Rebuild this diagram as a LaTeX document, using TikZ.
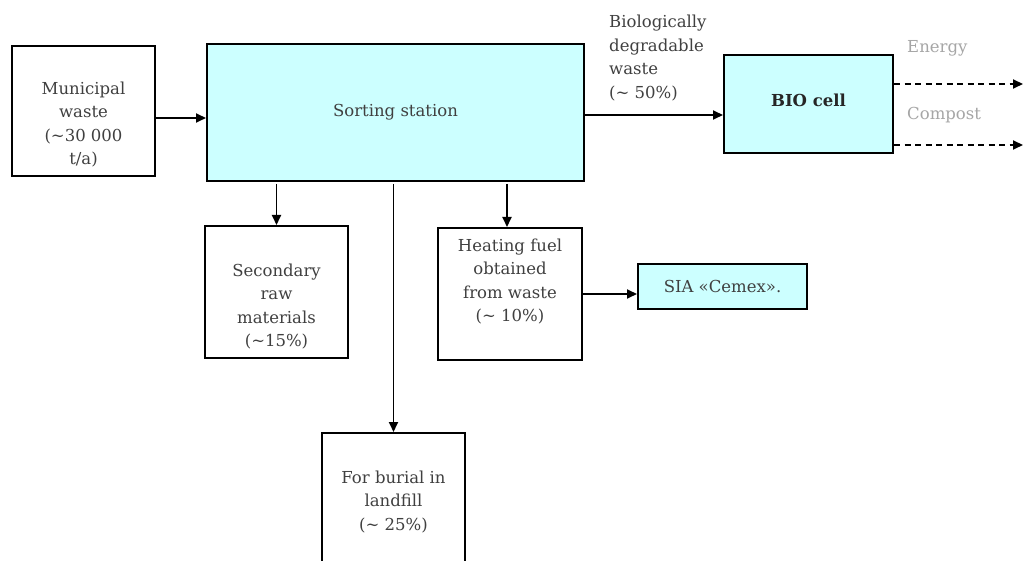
\documentclass[tikz,border=0pt]{standalone}
\usepackage{fontspec}
\setmainfont{DejaVu Serif}
\usetikzlibrary{arrows.meta}
\definecolor{txt}{RGB}{64,64,64}
\definecolor{cyanfill}{RGB}{204,255,255}
\definecolor{lightg}{RGB}{166,166,166}
\begin{document}
\begin{tikzpicture}[x=1pt,y=-1pt,
  box/.style={draw=black,line width=2pt,inner sep=0pt},
  cbox/.style={box,fill=cyanfill},
  lbl/.style={text=txt,font=\fontsize{16.5}{23.5}\selectfont,align=center,inner sep=0pt},
  arr/.style={line width=1.8pt,-{Triangle[length=10pt,width=9pt]}},
  darr/.style={arr,dash pattern=on 6pt off 4.5pt}]
\clip (0,0) rectangle (1024,561);
\fill[white] (0,0) rectangle (1024,561);
% boxes
\node[box,minimum width=143pt,minimum height=130pt] (muni) at (83.5,111) {};
\node[cbox,minimum width=377pt,minimum height=137pt] (sort) at (395.5,112.5) {};
\node[cbox,minimum width=169pt,minimum height=98pt] (bio) at (808.5,104) {};
\node[box,minimum width=143pt,minimum height=132pt] (sec) at (276.5,292) {};
\node[box,minimum width=144pt,minimum height=132pt] (heat) at (510,294) {};
\node[cbox,minimum width=169pt,minimum height=45pt] (sia) at (722.5,286.5) {};
\node[box,minimum width=143pt,minimum height=180pt] (bur) at (393.5,523) {};
% texts
\node[lbl] (muniT) at (83.5,124.5) {Municipal\\waste\\(\textasciitilde30 000\\t/a)};
\node[lbl] (sortT) at (sort) {Sorting station};
\node[lbl,text=black!85,font=\fontsize{16.5}{23.5}\selectfont\bfseries] (bioT) at (808.5,100) {BIO cell};
\node[lbl] (secT) at (276.5,306.5) {Secondary\\raw\\materials\\(\textasciitilde15\%)};
\node[lbl] (heatT) at (510,281.5) {Heating fuel\\obtained\\from waste\\(\textasciitilde{} 10\%)};
\node[lbl] (siaT) at (sia) {SIA «Cemex».};
\node[lbl] (burT) at (393.5,502) {For burial in\\landfill\\(\textasciitilde{} 25\%)};
\node[lbl,align=left,anchor=west] (bdw) at (609,58) {Biologically\\degradable\\waste\\(\textasciitilde{} 50\%)};
\node[lbl,text=lightg,anchor=west] (en) at (907,48) {Energy};
\node[lbl,text=lightg,anchor=west] (co) at (907,115) {Compost};
% end points
\coordinate (e1) at (1023,84);
\coordinate (e2) at (1023,145);
\coordinate (hn) at ([xshift=-3pt]heat.north);
% connectors
\draw[arr] ([yshift=-7pt]muni.east) -- ([yshift=-7pt]muni.east -| sort.west);
\draw[arr] ([yshift=-2.5pt]sort.east) -- ([yshift=-2.5pt]sort.east -| bio.west);
\draw[arr,shorten <=2pt] (sort.south -| sec.north) -- (sec.north);
\draw[arr,shorten <=2pt] (sort.south -| hn) -- (hn);
\draw[arr,shorten <=2pt] (sort.south -| bur.north) -- (bur.north);
\draw[arr] (heat.east) -- (heat.east -| sia.west);
\draw[darr] (bio.east |- e1) -- (e1);
\draw[darr] (bio.east |- e2) -- (e2);
\end{tikzpicture}
\end{document}
